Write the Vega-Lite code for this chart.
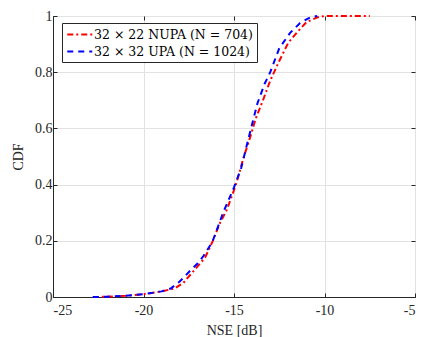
{
  "$schema": "https://vega.github.io/schema/vega-lite/v6.json",
  "width": 362,
  "height": 281,
  "autosize": "none",
  "padding": {"left": 53, "top": 16, "right": 7, "bottom": 40},
  "background": "white",
  "config": {
    "view": {"stroke": "#262626", "strokeWidth": 1},
    "font": "Liberation Serif",
    "axis": {
      "labelFont": "Liberation Serif",
      "titleFont": "Liberation Serif",
      "domainColor": "#262626",
      "tickColor": "#262626",
      "labelColor": "#262626",
      "titleColor": "#262626",
      "labelFontSize": 14,
      "titleFontSize": 14,
      "titleFontWeight": "normal",
      "gridColor": "#e2e2e2",
      "tickSize": -4
    },
    "legend": {"labelFont": "DejaVu Serif"}
  },
  "data": {
    "values": [
      {"series": "NUPA", "nse": -22.8, "cdf": 0},
      {"series": "NUPA", "nse": -22.0, "cdf": 0.001},
      {"series": "NUPA", "nse": -21.0, "cdf": 0.004},
      {"series": "NUPA", "nse": -20.0, "cdf": 0.01},
      {"series": "NUPA", "nse": -19.0, "cdf": 0.02},
      {"series": "NUPA", "nse": -18.3, "cdf": 0.03},
      {"series": "NUPA", "nse": -17.8, "cdf": 0.05},
      {"series": "NUPA", "nse": -17.4, "cdf": 0.08},
      {"series": "NUPA", "nse": -17.0, "cdf": 0.11},
      {"series": "NUPA", "nse": -16.6, "cdf": 0.14},
      {"series": "NUPA", "nse": -16.2, "cdf": 0.195},
      {"series": "NUPA", "nse": -15.8, "cdf": 0.26},
      {"series": "NUPA", "nse": -15.4, "cdf": 0.31},
      {"series": "NUPA", "nse": -15.0, "cdf": 0.38},
      {"series": "NUPA", "nse": -14.8, "cdf": 0.42},
      {"series": "NUPA", "nse": -14.5, "cdf": 0.49},
      {"series": "NUPA", "nse": -14.1, "cdf": 0.57},
      {"series": "NUPA", "nse": -13.8, "cdf": 0.635},
      {"series": "NUPA", "nse": -13.4, "cdf": 0.7},
      {"series": "NUPA", "nse": -13.0, "cdf": 0.77},
      {"series": "NUPA", "nse": -12.5, "cdf": 0.84},
      {"series": "NUPA", "nse": -12.0, "cdf": 0.905},
      {"series": "NUPA", "nse": -11.5, "cdf": 0.943},
      {"series": "NUPA", "nse": -11.0, "cdf": 0.978},
      {"series": "NUPA", "nse": -10.4, "cdf": 0.995},
      {"series": "NUPA", "nse": -10.0, "cdf": 1},
      {"series": "NUPA", "nse": -7.5, "cdf": 1},
      {"series": "UPA", "nse": -22.8, "cdf": 0},
      {"series": "UPA", "nse": -22.0, "cdf": 0.001},
      {"series": "UPA", "nse": -21.0, "cdf": 0.004},
      {"series": "UPA", "nse": -20.0, "cdf": 0.01},
      {"series": "UPA", "nse": -19.0, "cdf": 0.02},
      {"series": "UPA", "nse": -18.5, "cdf": 0.03},
      {"series": "UPA", "nse": -18.0, "cdf": 0.055},
      {"series": "UPA", "nse": -17.4, "cdf": 0.095},
      {"series": "UPA", "nse": -17.0, "cdf": 0.12},
      {"series": "UPA", "nse": -16.7, "cdf": 0.145},
      {"series": "UPA", "nse": -16.2, "cdf": 0.195},
      {"series": "UPA", "nse": -15.6, "cdf": 0.3},
      {"series": "UPA", "nse": -15.0, "cdf": 0.39},
      {"series": "UPA", "nse": -14.6, "cdf": 0.46},
      {"series": "UPA", "nse": -14.1, "cdf": 0.59},
      {"series": "UPA", "nse": -13.7, "cdf": 0.69},
      {"series": "UPA", "nse": -13.3, "cdf": 0.76},
      {"series": "UPA", "nse": -13.0, "cdf": 0.8},
      {"series": "UPA", "nse": -12.5, "cdf": 0.885},
      {"series": "UPA", "nse": -11.9, "cdf": 0.94},
      {"series": "UPA", "nse": -11.35, "cdf": 0.975},
      {"series": "UPA", "nse": -10.8, "cdf": 0.995},
      {"series": "UPA", "nse": -10.4, "cdf": 1}
    ]
  },
  "layer": [
    {
      "mark": {"type": "line", "strokeWidth": 2},
      "encoding": {
        "x": {
          "field": "nse", "type": "quantitative",
          "scale": {"domain": [-25, -5], "nice": false, "zero": false},
          "axis": {"values": [-25, -20, -15, -10, -5], "labelExpr": "'' + datum.value", "title": "NSE [dB]", "grid": true, "labelPadding": 10, "titlePadding": 6}
        },
        "y": {
          "field": "cdf", "type": "quantitative",
          "scale": {"domain": [0, 1], "nice": false},
          "axis": {"values": [0, 0.2, 0.4, 0.6, 0.8, 1], "labelExpr": "'' + datum.value", "title": "CDF", "grid": true, "labelPadding": 5, "titlePadding": 9}
        },
        "color": {
          "field": "series", "type": "nominal",
          "scale": {"domain": ["NUPA", "UPA"], "range": ["#ff0000", "#0000ff"]},
          "legend": {
            "title": null, "orient": "none", "legendX": 9, "legendY": 7,
            "labelExpr": "datum.value == 'NUPA' ? '32 × 22 NUPA (N = 704)' : '32 × 32 UPA (N = 1024)'",
            "symbolType": "M-1,0H3", "symbolSize": 156, "symbolStrokeWidth": 2, "symbolFillColor": "transparent",
            "labelFont": "DejaVu Serif", "labelFontSize": 12.5, "labelLimit": 300, "labelColor": "#000000", "labelOffset": 13,
            "fillColor": "white", "strokeColor": "#262626", "padding": 4, "rowPadding": 3
          }
        },
        "strokeDash": {
          "field": "series", "type": "nominal",
          "scale": {"domain": ["NUPA", "UPA"], "range": [[6, 3, 2, 3], [6, 5]]},
          "legend": {
            "title": null, "orient": "none", "legendX": 9, "legendY": 7,
            "labelExpr": "datum.value == 'NUPA' ? '32 × 22 NUPA (N = 704)' : '32 × 32 UPA (N = 1024)'",
            "symbolType": "M-1,0H3", "symbolSize": 156, "symbolStrokeWidth": 2, "symbolFillColor": "transparent",
            "labelFont": "DejaVu Serif", "labelFontSize": 12.5, "labelLimit": 300, "labelColor": "#000000", "labelOffset": 13,
            "fillColor": "white", "strokeColor": "#262626", "padding": 4, "rowPadding": 3
          }
        }
      }
    },
    {
      "mark": {"type": "line", "opacity": 0},
      "encoding": {
        "detail": {"field": "series"},
        "x": {"field": "nse", "type": "quantitative", "axis": {"orient": "top", "values": [-25, -20, -15, -10, -5], "labels": false, "title": null, "grid": false, "domain": false}},
        "y": {"field": "cdf", "type": "quantitative", "axis": {"orient": "right", "values": [0, 0.2, 0.4, 0.6, 0.8, 1], "labels": false, "title": null, "grid": false, "domain": false}}
      }
    }
  ],
  "resolve": {"axis": {"x": "independent", "y": "independent"}}
}
